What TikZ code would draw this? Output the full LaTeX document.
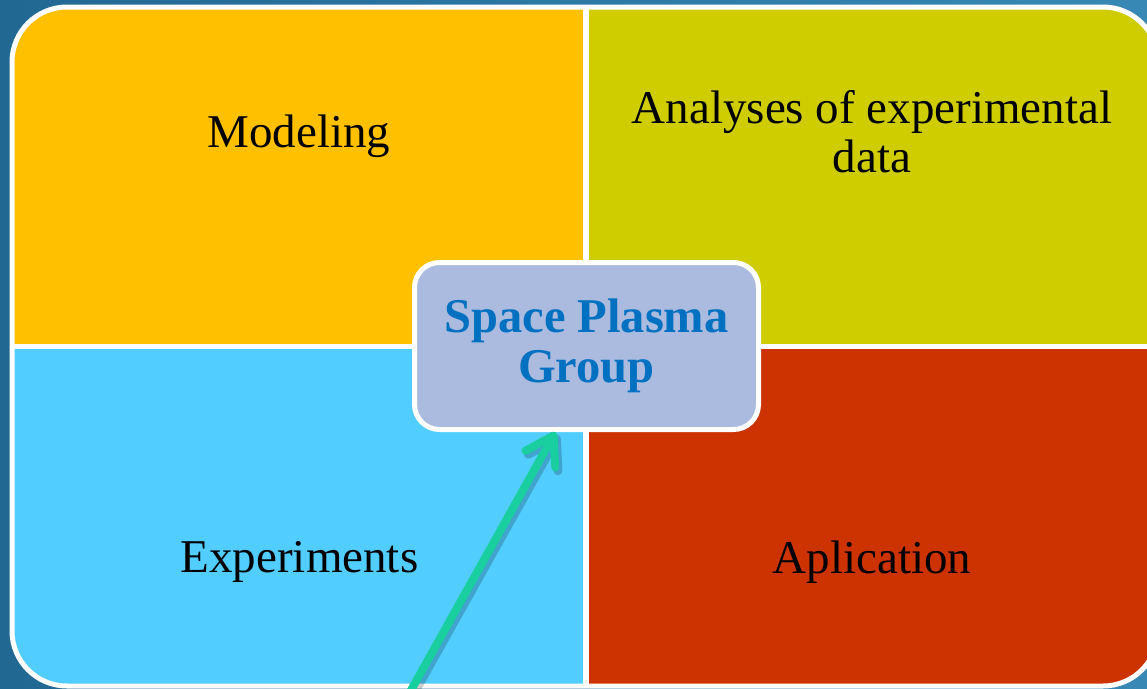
\documentclass[tikz,border=0pt]{standalone}
\usepackage{fontspec}
\setmainfont{Liberation Serif}
\usetikzlibrary{arrows.meta,calc}

\definecolor{bgleft}{RGB}{33,104,146}
\definecolor{bgright}{RGB}{56,136,182}
\definecolor{qmodel}{RGB}{255,192,0}
\definecolor{qanal}{RGB}{207,205,0}
\definecolor{qexp}{RGB}{81,205,255}
\definecolor{qappl}{RGB}{204,51,0}
\definecolor{hubfill}{RGB}{171,187,224}
\definecolor{hubtext}{RGB}{0,112,192}
\definecolor{arrowgreen}{RGB}{25,207,160}

\tikzset{
  lbl/.style={anchor=base, inner sep=0pt, align=center,
    font=\fontsize{47}{49}\selectfont},
  hub/.style={draw=white, line width=5pt, fill=hubfill, rounded corners=25pt,
    minimum width=344pt, minimum height=167pt, inner sep=0pt, align=center,
    text=hubtext, font=\bfseries\fontsize{48.5}{50}\selectfont},
  arrowline/.style={draw=arrowgreen, line width=8pt, line cap=round, line join=round,
    -{Straight Barb[length=27pt, width=34pt, line cap=round, line join=round]}},
  arrowshade/.style={draw=black, opacity=0.2, line width=9pt, line cap=round, line join=round,
    -{Straight Barb[length=27pt, width=34pt, line cap=round, line join=round]}}
}

\begin{document}
\begin{tikzpicture}[x=1pt, y=-1pt]
  \useasboundingbox (0,0) rectangle (1147,688);
  % background
  \shade[left color=bgleft, right color=bgright] (0,0) rectangle (1147,688);

  % four coloured quadrants inside the rounded frame
  \begin{scope}
    \clip[rounded corners=55pt] (12,7) rectangle (1158,686);
    \fill[qmodel] (0,0) rectangle (586,346.5);
    \fill[qanal] (586,0) rectangle (1170,346.5);
    \fill[qexp] (0,346.5) rectangle (586,700);
    \fill[qappl] (586,346.5) rectangle (1170,700);
    \draw[white, line width=6pt] (586,0) -- (586,700);
    \draw[white, line width=5pt] (0,346.5) -- (1170,346.5);
  \end{scope}
  \draw[white, line width=5pt, rounded corners=55pt] (12,7) rectangle (1158,686);

  % quadrant labels (base anchor sits on the last line)
  \node[lbl] (modeling) at (299,147) {Modeling};
  \node[lbl] (analyses) at (872,172) {Analyses of experimental\\data};
  \node[lbl] (experiments) at (299.5,572) {Experiments};
  \node[lbl] (aplication) at (872,573) {Aplication};

  % central hub
  \node[hub] (sp) at (586.5,346) {Space Plasma\\Group};

  % arrow pointing up to the hub
  \coordinate (foot) at (410,692);
  \draw[arrowshade] ([shift={(3,3)}]foot) -- ([shift={(-28,3)}]sp.south);
  \draw[arrowline] (foot) -- ([xshift=-31pt]sp.south);
\end{tikzpicture}
\end{document}
